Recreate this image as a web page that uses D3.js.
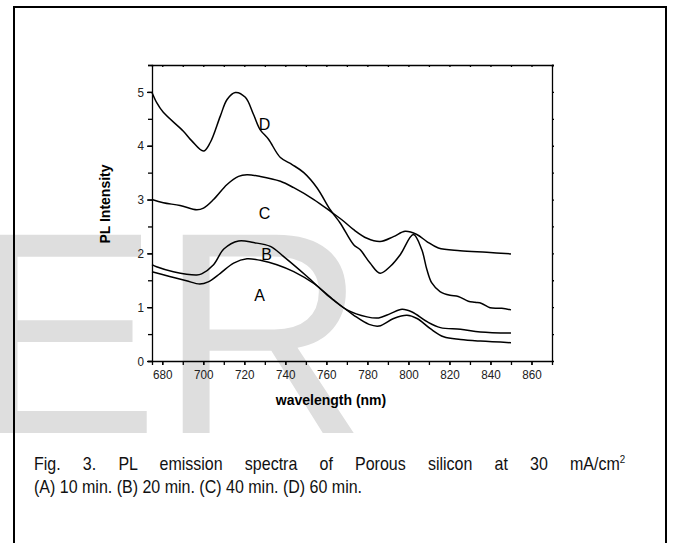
<!DOCTYPE html>
<html>
<head>
<meta charset="UTF-8">
<title>PL emission spectra</title>
<style>
  body { margin: 0; background: #fff; }
  svg { display: block; }
  .axis path, .axis line { stroke: #000; stroke-width: 1.3px; }
  .axis text { font-family: "Liberation Sans", Arial, sans-serif; font-size: 13px; fill: #222; }
  .line { fill: none; stroke: #000; stroke-width: 1.5px; }
</style>
</head>
<body>
<script src="https://d3js.org/d3.v7.min.js"></script>
<script>
// wavelength (nm) / PL intensity
var waveA = [675, 683.6, 691.8, 698.3, 702.4, 708.3, 714.8, 721.3, 727.8, 735.9, 744.1, 753.9, 763.7, 773.4, 780.8, 785.7, 792.8, 799.3, 804.2, 810.7, 817.2, 825.4, 835.1, 850];
var intA  = [1.66, 1.57, 1.49, 1.43, 1.47, 1.63, 1.82, 1.90, 1.87, 1.79, 1.66, 1.44, 1.13, 0.85, 0.68, 0.65, 0.79, 0.85, 0.79, 0.60, 0.45, 0.40, 0.37, 0.34];

var waveB = [675, 677.2, 685.4, 696.8, 699.2, 705, 710, 717.2, 724.5, 732.7, 739.2, 750.6, 760.3, 770.1, 779.8, 785.5, 791.2, 796.9, 801.8, 809.1, 815.6, 825.4, 835.1, 850];
var intB  = [1.79, 1.75, 1.66, 1.60, 1.62, 1.79, 2.08, 2.23, 2.20, 2.13, 1.94, 1.57, 1.23, 0.95, 0.82, 0.80, 0.88, 0.96, 0.91, 0.73, 0.62, 0.59, 0.54, 0.52];

var waveC = [675, 680.5, 688.7, 696.8, 700.1, 705, 711.6, 717.2, 721.3, 727.8, 737.6, 744.1, 753.9, 762, 767.7, 773.3, 779.8, 786.2, 792.7, 798.4, 804.1, 809, 814.6, 825.2, 838.2, 850];
var intC  = [3.00, 2.94, 2.89, 2.81, 2.84, 3.00, 3.28, 3.43, 3.46, 3.43, 3.34, 3.22, 3.00, 2.78, 2.62, 2.44, 2.28, 2.22, 2.31, 2.41, 2.35, 2.22, 2.10, 2.05, 2.02, 1.99];

var waveD = [675, 677.3, 680.5, 690.3, 694.4, 700.1, 703.4, 708.3, 711.6, 715.6, 720.5, 724.5, 727.7, 731.8, 737.6, 743.3, 749, 755.4, 761.9, 766.8, 773.3, 776.4, 781.3, 786.2, 791.2, 796.1, 802.4, 806.5, 809, 811.4, 815.4, 820.3, 824.3, 829.2, 832.5, 835.7, 839.8, 845.5, 850];
var intD  = [4.99, 4.80, 4.62, 4.27, 4.09, 3.90, 4.06, 4.55, 4.86, 4.99, 4.90, 4.58, 4.30, 4.12, 3.78, 3.65, 3.50, 3.22, 2.81, 2.56, 2.16, 2.07, 1.82, 1.63, 1.76, 1.98, 2.35, 2.07, 1.70, 1.45, 1.29, 1.22, 1.20, 1.11, 1.09, 1.07, 0.99, 0.98, 0.95];

// curve letters placed on the chart
var labelText = ["A", "B", "C", "D"];
var labelWave = [727.4, 730.8, 729.9, 729.9];
var labelInt  = [1.23, 1.99, 2.75, 4.39];

var xTicks = [680, 700, 720, 740, 760, 780, 800, 820, 840, 860];
var yTicks = [0, 1, 2, 3, 4, 5];

var captionLines = [
  "Fig. 3. PL emission spectra of Porous silicon  at 30 mA/cm",
  "(A) 10 min. (B) 20 min. (C) 40 min. (D) 60 min."
];

var W = 673, H = 543;
var margin = {top: 65, right: 121, bottom: 182, left: 152};
var width = W - margin.left - margin.right;
var height = H - margin.top - margin.bottom;

var svg = d3.select("body").append("svg")
    .attr("width", W)
    .attr("height", H);

// grey watermark behind everything
svg.append("text")
    .attr("x", -33)
    .attr("y", 433)
    .style("font-family", "'Liberation Sans', Arial, sans-serif")
    .style("font-size", "288px")
    .style("fill", "#dedede")
    .text("ER");

// outer frame
svg.append("rect")
    .attr("x", 14).attr("y", 7)
    .attr("width", 652).attr("height", 560)
    .attr("fill", "none")
    .attr("stroke", "#000")
    .attr("stroke-width", 2);

var g = svg.append("g")
    .attr("transform", "translate(" + margin.left + "," + margin.top + ")");

var x = d3.scaleLinear().domain([675, 870]).range([0, width]);
var y = d3.scaleLinear().domain([0, 5.5]).range([height, 0]);

function noText(a) { a.selectAll("text").remove(); }
// the original uses a narrow face, squeeze the labels a little
function narrow(a) { a.selectAll("text").attr("transform", "scale(0.9,1)"); }

// minor ticks first, then labelled ones
g.append("g").attr("class", "axis")
    .attr("transform", "translate(0," + height + ")")
    .call(d3.axisBottom(x).tickValues(d3.range(680, 870, 10)).tickSize(4))
    .call(noText);
g.append("g").attr("class", "axis")
    .attr("transform", "translate(0," + height + ")")
    .call(d3.axisBottom(x).tickValues(xTicks).tickSize(4).tickPadding(5).tickFormat(d3.format("d")))
    .call(narrow)
    .call(function(a) { a.select(".domain").remove(); });

g.append("g").attr("class", "axis")
    .call(d3.axisLeft(y).tickValues(d3.range(0, 5.51, 0.5)).tickSize(4))
    .call(noText);
g.append("g").attr("class", "axis")
    .call(d3.axisLeft(y).tickValues(yTicks).tickSize(5).tickPadding(4).tickFormat(d3.format("d")))
    .call(narrow)
    .call(function(a) { a.select(".domain").remove(); });

g.append("g").attr("class", "axis")
    .call(d3.axisTop(x).tickValues(d3.range(680, 870, 10)).tickSize(-2))
    .call(noText);
g.append("g").attr("class", "axis")
    .attr("transform", "translate(" + width + ",0)")
    .call(d3.axisRight(y).tickValues(d3.range(0.5, 5.51, 0.5)).tickSize(2))
    .call(noText);

var line = d3.line()
    .x(function(d) { return x(d[0]); })
    .y(function(d) { return y(d[1]); })
    .curve(d3.curveCatmullRom);

[[waveA, intA], [waveB, intB], [waveC, intC], [waveD, intD]].forEach(function(s) {
    g.append("path")
        .attr("class", "line")
        .attr("d", line(d3.zip(s[0], s[1])));
});

g.selectAll(".lbl")
    .data(labelText)
    .enter().append("text")
    .attr("class", "lbl")
    .attr("x", function(d, i) { return x(labelWave[i]); })
    .attr("y", function(d, i) { return y(labelInt[i]); })
    .attr("dy", "0.36em")
    .attr("text-anchor", "middle")
    .style("font-family", "'Liberation Sans', Arial, sans-serif")
    .style("font-size", "16px")
    .text(function(d) { return d; });

// axis titles
svg.append("text")
    .attr("x", 331).attr("y", 405)
    .attr("text-anchor", "middle")
    .style("font-family", "'Liberation Sans', Arial, sans-serif")
    .style("font-weight", "bold")
    .style("font-size", "14px")
    .text("wavelength (nm)");

svg.append("text")
    .attr("transform", "translate(110,204) rotate(-90)")
    .attr("text-anchor", "middle")
    .style("font-family", "'Liberation Sans', Arial, sans-serif")
    .style("font-weight", "bold")
    .style("font-size", "14px")
    .text("PL Intensity");

// caption: taller, slightly condensed type; first line justified to the margin
var sx = 0.89;
var cap = svg.append("g")
    .attr("transform", "translate(34,0) scale(" + sx + ",1)")
    .style("font-family", "'Liberation Sans', Arial, sans-serif")
    .style("font-size", "18px")
    .style("fill", "#111")
    .style("white-space", "pre");

var c1 = cap.append("text").attr("x", 0).attr("y", 470);
c1.append("tspan").text(captionLines[0]);
c1.append("tspan").attr("dy", -7).style("font-size", "11px").text("2");

var spaces = captionLines[0].split(" ").length - 1;
var extra = ((643 - 34) / sx - c1.node().getComputedTextLength()) / spaces;
c1.style("word-spacing", extra + "px");

cap.append("text").attr("x", 0).attr("y", 493).text(captionLines[1]);
</script>
</body>
</html>
